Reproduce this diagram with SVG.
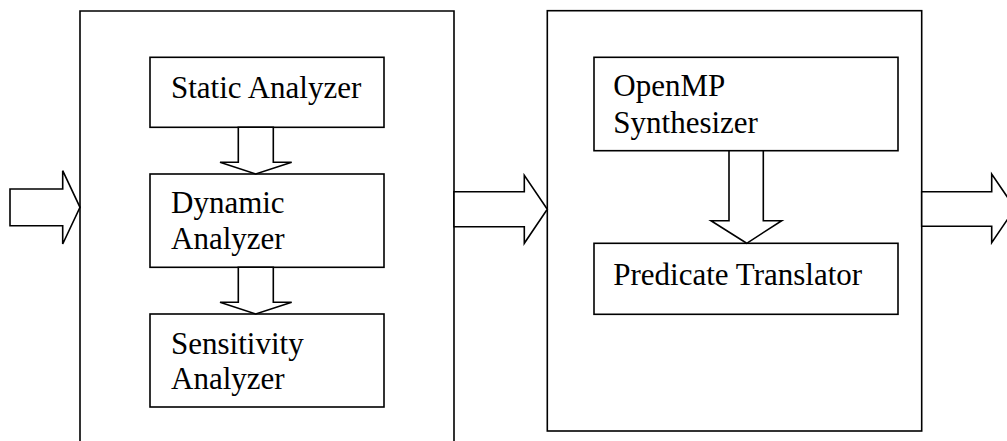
<svg xmlns="http://www.w3.org/2000/svg" width="1007" height="441" viewBox="0 0 1007 441">
<style>
.box{fill:#fff;stroke:#000;stroke-width:1.6}
.arr{fill:#fff;stroke:#000;stroke-width:1.6;stroke-linejoin:miter}
.t{font-family:"Liberation Serif","Times New Roman",serif;font-size:31px;fill:#000}
</style>
<rect width="1007" height="441" fill="#fff"/>
<g id="stage1">
<path class="box" d="M80,460 V11 H454 V460"/>
</g>
<g id="stage2">
<rect class="box" x="547.3" y="10.7" width="374.4" height="420.3"/>
</g>
<g id="static-analyzer">
<rect class="box" x="150" y="57.3" width="234" height="70"/>
<text class="t" x="171" y="98.3">Static Analyzer</text>
</g>
<g id="dynamic-analyzer">
<rect class="box" x="150" y="174" width="234" height="93.3"/>
<text class="t" x="171" y="212.7">Dynamic</text>
<text class="t" x="171" y="249.3">Analyzer</text>
</g>
<g id="sensitivity-analyzer">
<rect class="box" x="150" y="314" width="234" height="93"/>
<text class="t" x="171" y="354.3">Sensitivity</text>
<text class="t" x="171" y="389.3">Analyzer</text>
</g>
<g id="openmp-synthesizer">
<rect class="box" x="594" y="57.3" width="304" height="93.4"/>
<text class="t" x="613.3" y="95.7">OpenMP</text>
<text class="t" x="613.3" y="133.3">Synthesizer</text>
</g>
<g id="predicate-translator">
<rect class="box" x="594" y="243.3" width="304" height="71"/>
<text class="t" x="613.3" y="285">Predicate Translator</text>
</g>
<g id="connectors">
<polygon class="arr" points="10,189 62.7,189 62.7,170.7 80,207.3 62.7,244 62.7,225.7 10,225.7"/>
<polygon class="arr" points="454,191.7 524.3,191.7 524.3,175.3 547.3,209.3 524.3,243.3 524.3,226.7 454,226.7"/>
<polygon class="arr" points="921.7,191.7 991.7,191.7 991.7,174 1015,208.3 991.7,242.7 991.7,226.3 921.7,226.3"/>
<polygon class="arr" points="238.3,127.3 273.3,127.3 273.3,162.3 291.7,162.3 255.7,174 220,162.3 238.3,162.3"/>
<polygon class="arr" points="238.3,267.3 273.3,267.3 273.3,302.3 291.7,302.3 255.7,314 220,302.3 238.3,302.3"/>
<polygon class="arr" points="729,150.7 763.3,150.7 763.3,220.7 781.7,220.7 746.7,243.3 711,220.7 729,220.7"/>
</g>
</svg>
